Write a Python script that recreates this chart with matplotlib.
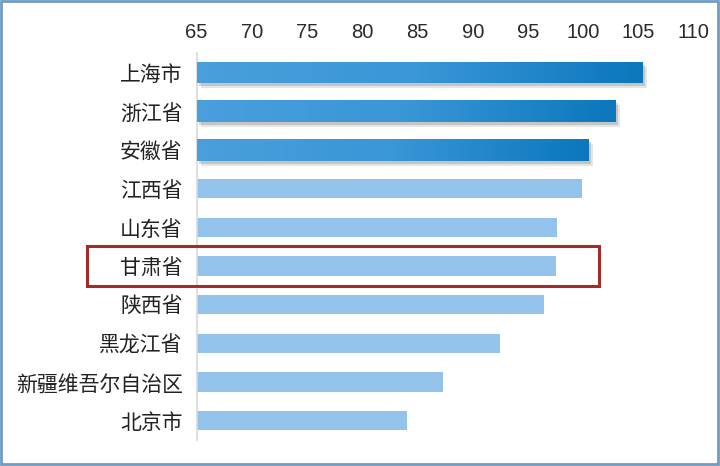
import numpy as np
import matplotlib.pyplot as plt
import matplotlib.patheffects as pe
from matplotlib import font_manager
from matplotlib.patches import Rectangle
from matplotlib.colors import LinearSegmentedColormap

plt.rcParams['font.family'] = ['Noto Sans CJK SC', 'DejaVu Sans']

regions = ["上海市", "浙江省", "安徽省", "江西省", "山东省",
           "甘肃省", "陕西省", "黑龙江省", "新疆维吾尔自治区", "北京市"]
values = [105.3, 102.9, 100.4, 99.9, 97.6, 97.5, 96.4, 92.5, 87.3, 84.0]
highlight_top = 3          # first three bars drawn in dark gradient
boxed = "甘肃省"
x_ticks = [65, 70, 75, 80, 85, 90, 95, 100, 105, 110]

base = 65
fig = plt.figure(figsize=(7.2, 4.66), dpi=100)
ax = fig.add_axes([0.273, 0.0558, 0.6907, 0.830])

ypos = np.arange(len(regions))
light = "#93c3ea"

# gradient for the top bars
grad = np.linspace(0, 1, 256).reshape(1, -1)
cmap = LinearSegmentedColormap.from_list("g", ["#4a9fdd", "#3996d7", "#0b77bc"])

for i, (name, v) in enumerate(zip(regions, values)):
    if i < highlight_top:
        h = 0.56
        bar = ax.barh(i, v - base, left=base, height=h, color="#2a8ad0", zorder=2)[0]
        bar.set_path_effects([
            pe.SimplePatchShadow(offset=(3.5, -3.5), shadow_rgbFace="#9a9a9a", alpha=0.25),
            pe.SimplePatchShadow(offset=(2, -2), shadow_rgbFace="#8a8a8a", alpha=0.35),
            pe.Normal()])
        im = ax.imshow(grad, cmap=cmap, aspect="auto", zorder=3,
                       extent=(base, v, i + h / 2, i - h / 2))
        im.set_clip_path(bar)
    else:
        ax.barh(i, v - base, left=base, height=0.5, color=light, zorder=2)

# number font: narrow sans if present
names = {f.name for f in font_manager.fontManager.ttflist}
num_font = ["Liberation Sans Narrow"] if "Liberation Sans Narrow" in names else ["Liberation Sans"]

ax.set_xlim(65, 110)
ax.set_ylim(len(regions) - 0.5, -0.5)
ax.set_yticks(ypos)
ax.set_yticklabels(regions, fontsize=15, color="#222222")
ax.set_xticks(x_ticks)
ax.set_xticklabels([str(t) for t in x_ticks], family=num_font + ["DejaVu Sans"],
                   fontsize=14.5, color="#2a2a2a")
ax.xaxis.tick_top()
ax.tick_params(axis="both", length=0)
ax.tick_params(axis="x", pad=8)
ax.tick_params(axis="y", pad=10)
for s in ["top", "right", "bottom"]:
    ax.spines[s].set_visible(False)
ax.spines["left"].set_color("#d9d9d9")
ax.spines["left"].set_linewidth(1.2)

# red box around the highlighted region
fig.add_artist(Rectangle((87 / 720, 1 - 286 / 466), (599 - 87) / 720, 40 / 466,
                         transform=fig.transFigure, fill=False,
                         edgecolor="#a52a2a", linewidth=2.2, zorder=5))

# thin frame around the picture
fig.add_artist(Rectangle((0.002, 0.004), 0.995, 0.993, transform=fig.transFigure,
                         fill=False, edgecolor="#6f9cc4", linewidth=2))

fig.savefig("out.png", dpi=100)
